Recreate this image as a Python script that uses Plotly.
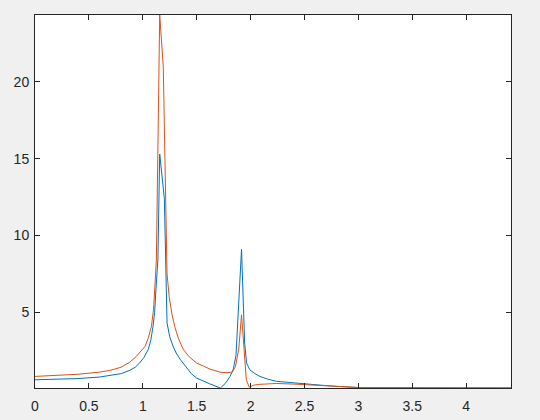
import plotly.graph_objects as go

# blue series
x_blue = [0.0, 0.2, 0.4, 0.6, 0.7, 0.8, 0.88, 0.93, 0.97, 1.01, 1.05, 1.075,
          1.095, 1.11, 1.12, 1.14, 1.157, 1.20, 1.225, 1.25, 1.28, 1.31, 1.35,
          1.40, 1.45, 1.50, 1.56, 1.62, 1.67, 1.72, 1.77, 1.81, 1.84, 1.865,
          1.885, 1.916, 1.945, 1.963, 1.993, 2.04, 2.086, 2.16, 2.24, 2.35,
          2.49, 2.65, 2.8, 3.0, 3.5, 4.0, 4.416]
y_blue = [0.60, 0.63, 0.68, 0.78, 0.87, 1.00, 1.22, 1.42, 1.69, 2.05, 2.56, 3.2,
          4.07, 5.0, 6.25, 8.4, 15.3, 12.4, 4.3, 3.4, 2.8, 2.34, 1.9,
          1.45, 1.0, 0.71, 0.50, 0.34, 0.20, 0.065, 0.40, 0.82, 1.3, 2.2,
          4.93, 9.1, 3.0, 1.69, 1.25, 1.0, 0.82, 0.64, 0.50, 0.42,
          0.34, 0.25, 0.17, 0.09, 0.075, 0.07, 0.068]

# orange series
x_orange = [0.0, 0.2, 0.4, 0.6, 0.7, 0.8, 0.88, 0.94, 0.99, 1.02, 1.05, 1.08,
            1.10, 1.11, 1.126, 1.157, 1.19, 1.225, 1.245, 1.27, 1.296, 1.33,
            1.374, 1.43, 1.498, 1.56, 1.622, 1.715, 1.78, 1.83, 1.86, 1.89,
            1.916, 1.94, 1.96, 1.987, 2.03, 2.08, 2.24, 2.4, 2.6, 2.8, 3.0,
            3.5, 4.0, 4.416]
y_orange = [0.82, 0.88, 0.96, 1.10, 1.22, 1.42, 1.75, 2.12, 2.50, 2.77, 3.3, 4.07,
            5.2, 6.25, 8.4, 24.36, 21.0, 7.5, 6.0, 4.9, 4.07, 3.3,
            2.6, 2.1, 1.7, 1.5, 1.30, 1.10, 1.06, 1.10, 1.47, 2.6,
            4.83, 2.56, 0.6, 0.13, 0.25, 0.30, 0.36, 0.32, 0.24, 0.17, 0.10,
            0.08, 0.07, 0.068]

x_ticks = [0, 0.5, 1, 1.5, 2, 2.5, 3, 3.5, 4]
x_labels = ['0', '0.5', '1', '1.5', '2', '2.5', '3', '3.5', '4']
y_ticks = [5, 10, 15, 20]

fig = go.Figure()
fig.add_trace(go.Scatter(x=x_blue, y=y_blue, mode='lines',
                         line=dict(color='#0072BD', width=1)))
fig.add_trace(go.Scatter(x=x_orange, y=y_orange, mode='lines',
                         line=dict(color='#D95319', width=1)))

axis_style = dict(
    showline=True, linecolor='#262626', linewidth=1,
    mirror='allticks', ticks='inside', ticklen=5, tickcolor='#262626',
    showgrid=False, zeroline=False, automargin=False,
    tickfont=dict(family='Liberation Sans, Arial', size=14, color='#262626'),
)

fig.update_layout(
    width=540, height=420,
    showlegend=False,
    paper_bgcolor='#F0F0F0',
    plot_bgcolor='white',
    margin=dict(l=35, r=29, t=15, b=32),
    xaxis=dict(range=[0, 4.416], tickvals=x_ticks, ticktext=x_labels,
               ticklabelstandoff=5, **axis_style),
    yaxis=dict(range=[0.065, 24.36], tickvals=y_ticks, ticklabelstandoff=2,
               **axis_style),
)

# drop the default body margin so the figure sits at the window corner
fig.write_html("out.html", config={'displayModeBar': False},
               post_script="document.body.style.margin='0';document.body.style.overflow='hidden';")
